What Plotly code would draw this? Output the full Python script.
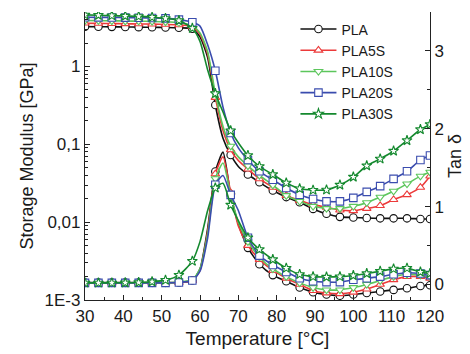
import plotly.graph_objects as go

# temperature grid [°C]
temp = [30, 33.5, 37, 40.5, 44, 47.5, 51, 54.5, 58, 60, 62, 64, 66, 68, 70,
        72.5, 75.5, 79, 82.5, 86, 89.5, 93, 96.5, 100, 103.5, 107, 110.5, 114, 117.5, 120]
# points that carry a symbol
marked = [i for i, t in enumerate(temp) if t not in (60, 62, 66, 70)]

names = ["PLA", "PLA5S", "PLA10S", "PLA20S", "PLA30S"]

# storage modulus [GPa]
mod_pla = [3.25, 3.24, 3.23, 3.22, 3.2, 3.19, 3.17, 3.14, 3.05, 2.4, 1.3, 0.32, 0.12, 0.073, 0.052,
           0.041, 0.0325, 0.0255, 0.021, 0.018, 0.0148, 0.0128, 0.0117, 0.0115, 0.0113, 0.0112, 0.0112, 0.0112, 0.011, 0.011]
mod_5s = [3.6, 3.58, 3.56, 3.54, 3.52, 3.5, 3.47, 3.42, 3.25, 2.6, 1.45, 0.4, 0.15, 0.085, 0.062,
          0.048, 0.036, 0.028, 0.022, 0.019, 0.0168, 0.0155, 0.0143, 0.014, 0.015, 0.0163, 0.0195, 0.0225, 0.028, 0.039]
mod_10s = [3.9, 3.88, 3.86, 3.84, 3.82, 3.79, 3.75, 3.65, 3.35, 2.7, 1.55, 0.45, 0.17, 0.095, 0.069,
           0.053, 0.04, 0.03, 0.022, 0.0185, 0.016, 0.015, 0.015, 0.016, 0.0178, 0.021, 0.025, 0.031, 0.039, 0.044]
mod_20s = [4.3, 4.28, 4.26, 4.24, 4.22, 4.2, 4.15, 4.0, 3.7, 3.3, 1.9, 0.88, 0.3, 0.14, 0.09,
           0.063, 0.045, 0.035, 0.0275, 0.0225, 0.0198, 0.0185, 0.0185, 0.0205, 0.0245, 0.029, 0.036, 0.045, 0.063, 0.072]
mod_30s = [4.6, 4.55, 4.5, 4.45, 4.4, 4.3, 4.15, 3.9, 3.1, 2.1, 0.9, 0.45, 0.26, 0.15, 0.105,
           0.072, 0.052, 0.041, 0.032, 0.027, 0.0258, 0.026, 0.03, 0.038, 0.053, 0.065, 0.082, 0.112, 0.155, 0.18]

# tan delta
tan_pla = [0.025, 0.025, 0.025, 0.025, 0.025, 0.025, 0.025, 0.025, 0.05, 0.2, 0.72, 1.45, 1.7, 1.15, 0.78,
           0.47, 0.26, 0.12, 0.04, -0.04, -0.1, -0.13, -0.145, -0.13, -0.11, -0.09, -0.07, -0.05, -0.02, -0.01]
tan_5s = [0.02, 0.02, 0.02, 0.02, 0.02, 0.02, 0.02, 0.025, 0.05, 0.18, 0.68, 1.42, 1.64, 1.18, 0.75,
          0.5, 0.32, 0.18, 0.08, 0.0, -0.08, -0.11, -0.12, -0.1, -0.06, 0.0, 0.06, 0.1, 0.1, 0.08]
tan_10s = [0.02, 0.02, 0.02, 0.02, 0.02, 0.02, 0.02, 0.03, 0.06, 0.2, 0.65, 1.36, 1.56, 1.15, 0.8,
           0.55, 0.35, 0.2, 0.1, 0.02, -0.04, -0.07, -0.07, -0.04, 0.0, 0.05, 0.1, 0.13, 0.12, 0.1]
tan_20s = [0.02, 0.02, 0.02, 0.02, 0.02, 0.02, 0.02, 0.025, 0.05, 0.17, 0.6, 1.28, 1.4, 1.15, 0.95,
           0.6, 0.37, 0.25, 0.16, 0.08, 0.04, 0.03, 0.03, 0.06, 0.08, 0.1, 0.13, 0.15, 0.14, 0.12]
tan_30s = [0.02, 0.02, 0.02, 0.022, 0.025, 0.035, 0.055, 0.12, 0.3, 0.55, 0.95, 1.24, 1.3, 1.02, 0.82,
           0.6, 0.45, 0.32, 0.21, 0.13, 0.1, 0.095, 0.1, 0.115, 0.14, 0.17, 0.2, 0.21, 0.16, 0.14]

modulus = [mod_pla, mod_5s, mod_10s, mod_20s, mod_30s]
tandelta = [tan_pla, tan_5s, tan_10s, tan_20s, tan_30s]
colors = ["#111111", "#ec3a3a", "#5cc65c", "#3a4cae", "#14892e"]
symbols = ["circle", "triangle-up", "triangle-down", "square", "star"]

FONT = "Arial, Liberation Sans, sans-serif"

fig = go.Figure()

for name, mod, tan, col, sym in zip(names, modulus, tandelta, colors, symbols):
    mk = dict(symbol=sym, size=7.5, color="white", line=dict(color=col, width=1.1))
    for ys, ax in ((mod, "y"), (tan, "y2")):
        fig.add_trace(go.Scatter(x=temp, y=ys, yaxis=ax, mode="lines", showlegend=False,
                                 line=dict(color=col, width=1.6, shape="spline", smoothing=0.6)))
        fig.add_trace(go.Scatter(x=[temp[i] for i in marked], y=[ys[i] for i in marked], yaxis=ax,
                                 mode="markers", showlegend=False, marker=mk))
    # legend entry
    fig.add_trace(go.Scatter(x=[None], y=[None], name=name, mode="lines+markers",
                             line=dict(color=col, width=1.6), marker=mk))

fig.update_layout(
    width=470, height=354,
    margin=dict(l=85, r=40, t=12, b=54, autoexpand=False),
    paper_bgcolor="white", plot_bgcolor="white",
    font=dict(family=FONT, size=17, color="#1a1a1a"),
    legend=dict(x=0.61, y=0.995, xanchor="left", yanchor="top", font=dict(size=14),
                bgcolor="rgba(0,0,0,0)", itemwidth=36, tracegroupgap=0),
    xaxis=dict(range=[30, 120], dtick=10, ticks="inside", ticklen=5, tickcolor="#222",
               showline=True, linecolor="#222", linewidth=1.2, showgrid=False, zeroline=False,
               automargin=False,
               minor=dict(ticks="inside", ticklen=3, dtick=5, tickcolor="#222"),
               title=dict(text="Temperature [°C]", font=dict(size=19), standoff=7)),
    yaxis=dict(type="log", range=[-3, 0.7], tickvals=[0.001, 0.01, 0.1, 1],
               ticktext=["1E-3", "0,01", "0,1", "1"], ticks="inside", ticklen=5, tickcolor="#222",
               showline=True, linecolor="#222", linewidth=1.2, showgrid=False, zeroline=False,
               automargin=False,
               minor=dict(ticks="inside", ticklen=3, dtick="D1", tickcolor="#222"),
               title=dict(text="Storage Modulus [GPa]", font=dict(size=18), standoff=6)),
    yaxis2=dict(overlaying="y", side="right", range=[-0.2, 3.5], tickvals=[0, 1, 2, 3],
                ticks="inside", ticklen=5, tickcolor="#222",
                showline=True, linecolor="#222", linewidth=1.2, showgrid=False, zeroline=False,
                automargin=False,
                minor=dict(ticks="inside", ticklen=3, dtick=0.5, tickcolor="#222"),
                title=dict(text="Tan δ", font=dict(size=18), standoff=5)),
)

# page body has a default 8px margin; remove it so the figure sits at the corner
fig.write_html("out.html", config={"displayModeBar": False},
               post_script="document.body.style.margin='0';")
